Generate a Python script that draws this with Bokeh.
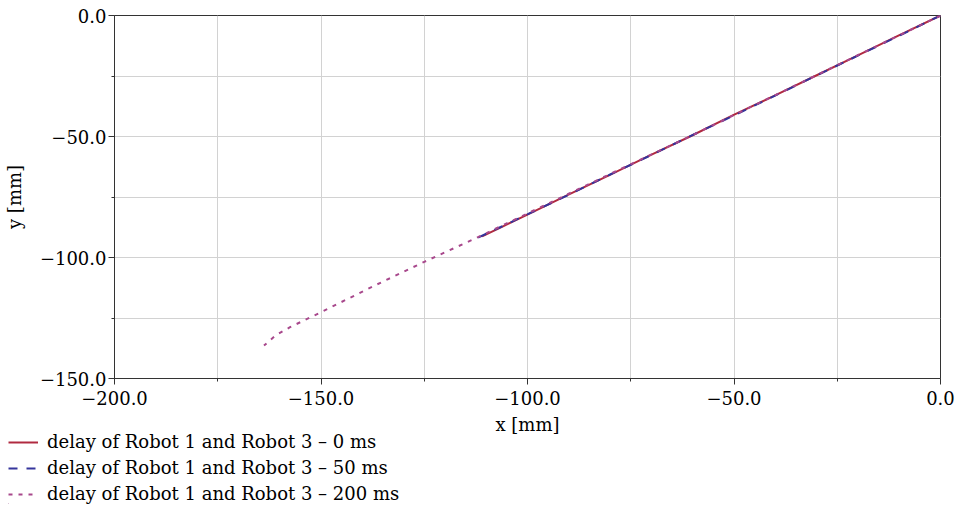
from bokeh.plotting import figure
from bokeh.layouts import column
from bokeh.models import Range1d, FixedTicker, Legend, LegendItem
from bokeh.embed import file_html
from bokeh.resources import INLINE

# ---- data ----
x_0ms = [0.0, -10.2, -20.5, -30.1, -40.3, -50.2, -60.4, -70.1, -80.3, -90.2, -100.4, -105.8, -111.0]
y_0ms = [0.0, -8.3, -16.9, -24.8, -33.2, -41.2, -49.8, -57.6, -66.1, -74.1, -82.6, -87.0, -91.3]

x_50ms = [0.0, -9.8, -19.9, -30.4, -39.8, -50.1, -60.2, -69.7, -80.1, -90.3, -99.8, -106.5, -113.0]
y_50ms = [0.0, -8.2, -16.5, -25.1, -32.9, -41.4, -49.5, -57.4, -65.8, -74.3, -82.0, -87.4, -92.6]

x_200ms = [0.0, -20.0, -40.0, -60.0, -80.0, -100.0, -112.0, -125.0, -137.5, -150.0, -157.5, -161.0, -163.8]
y_200ms = [0.0, -16.4, -32.9, -49.4, -65.5, -81.8, -91.6, -101.8, -112.0, -122.6, -128.8, -132.2, -136.4]

series_x = [x_0ms, x_50ms, x_200ms]
series_y = [y_0ms, y_50ms, y_200ms]
series_labels = [
    "delay of Robot 1 and Robot 3 \u2013 0 ms",
    "delay of Robot 1 and Robot 3 \u2013 50 ms",
    "delay of Robot 1 and Robot 3 \u2013 200 ms",
]
series_colors = ["#b02a40", "#35359c", "#a8488c"]
series_dash = ["solid", "9 9", "4 6"]

x_major = [-200, -150, -100, -50, 0]
x_minor = [-175, -125, -75, -25]
x_tick_labels = ["\u2212200.0", "\u2212150.0", "\u2212100.0", "\u221250.0", "0.0"]
y_major = [-150, -100, -50, 0]
y_minor = [-125, -75, -25]
y_tick_labels = ["\u2212150.0", "\u2212100.0", "\u221250.0", "0.0"]
x_title = "x [mm]"
y_title = "y [mm]"

FONT = "DejaVu Serif"

# ---------------- main plot ----------------
p = figure(
    frame_width=826, frame_height=363,
    min_border_left=114, min_border_right=27, min_border_top=15, min_border_bottom=70,
    x_range=Range1d(-200, 0), y_range=Range1d(-150, 0),
    output_backend="svg", toolbar_location=None,
    background_fill_color="white", border_fill_color="white",
)
p.outline_line_color = "#333333"
p.outline_line_width = 1

for ax, major, minor, labs in ((p.xaxis[0], x_major, x_minor, x_tick_labels),
                               (p.yaxis[0], y_major, y_minor, y_tick_labels)):
    ax.ticker = FixedTicker(ticks=major, minor_ticks=minor)
    ax.major_label_overrides = {v: s for v, s in zip(major, labs)}
    ax.major_label_text_font = FONT
    ax.major_label_text_font_size = "18px"
    ax.major_label_text_color = "black"
    ax.axis_label_text_font = FONT
    ax.axis_label_text_font_size = "18px"
    ax.axis_label_text_font_style = "normal"
    ax.axis_label_text_color = "black"
    ax.axis_line_color = "#333333"
    ax.major_tick_line_color = "#333333"
    ax.minor_tick_line_color = "#333333"
    ax.major_tick_out = 6
    ax.major_tick_in = 0
    ax.minor_tick_out = 3
    ax.minor_tick_in = 0

p.xaxis.axis_label = x_title
p.yaxis.axis_label = y_title
p.xaxis.major_label_standoff = 6
p.xaxis.axis_label_standoff = 6
p.yaxis.major_label_standoff = 2
p.yaxis.axis_label_standoff = 12

for g in (p.xgrid[0], p.ygrid[0]):
    g.grid_line_color = "#d2d2d2"
    g.grid_line_width = 1
    g.minor_grid_line_color = "#d2d2d2"
    g.minor_grid_line_width = 1

for xs, ys, col, dash in zip(series_x, series_y, series_colors, series_dash):
    p.line(xs, ys, line_color=col, line_width=2, line_dash=dash)

# ---------------- legend strip (below the plot, left aligned) ----------------
p2 = figure(
    width=967, height=73,
    min_border_left=114, min_border_right=27, min_border_top=0, min_border_bottom=0,
    x_range=Range1d(0, 1), y_range=Range1d(0, 1),
    x_axis_location=None, y_axis_location=None,
    output_backend="svg", toolbar_location=None,
    background_fill_color=None, border_fill_color=None,
    outline_line_color=None,
)
p2.grid.visible = False

items = []
for xs, ys, lab, col, dash in zip(series_x, series_y, series_labels, series_colors, series_dash):
    # same series, outside this strip's ranges: only its legend sample shows
    r = p2.line(xs, ys, line_color=col, line_width=2, line_dash=dash)
    items.append(LegendItem(label=lab, renderers=[r]))

legend = Legend(
    items=items, location="top_left",
    padding=0, margin=0, spacing=5,
    glyph_width=30, glyph_height=20, label_height=20, label_standoff=9,
    label_text_font=FONT, label_text_font_size="18px", label_text_color="black",
    border_line_color=None, background_fill_alpha=0,
)
p2.add_layout(legend)
p2.styles = {"transform": "translate(-106px, -17px)"}

layout = column(p, p2, spacing=0)
open("out.html", "w").write(file_html(layout, INLINE))
